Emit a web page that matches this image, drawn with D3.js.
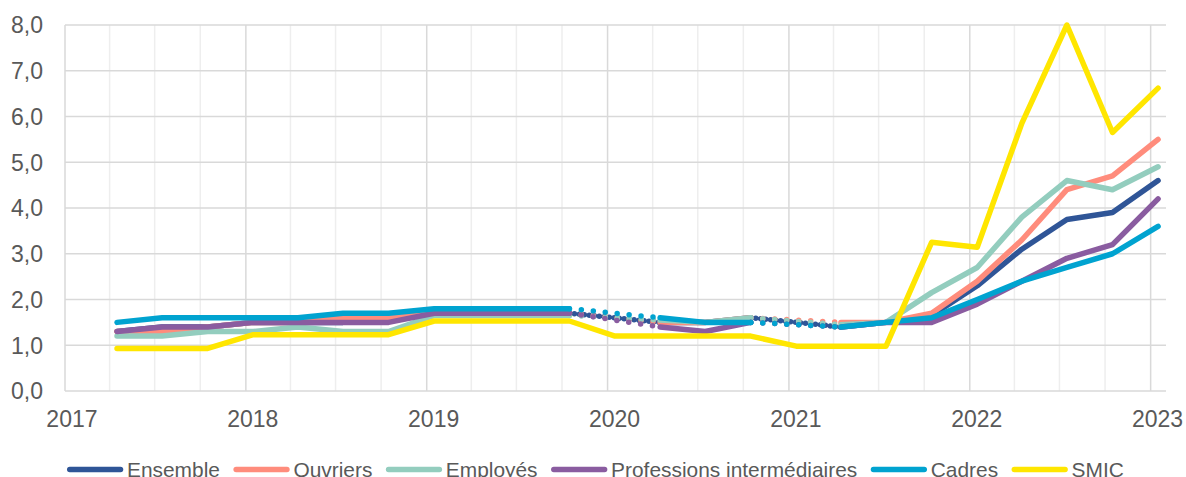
<!DOCTYPE html>
<html><head><meta charset="utf-8">
<script src="https://cdn.jsdelivr.net/npm/d3@7"></script>
<style>
html,body{margin:0;padding:0;background:#fff;}
svg{display:block;font-family:"Liberation Sans",Arial,sans-serif;}
</style></head>
<body>
<svg id="c" width="1186" height="477"></svg>
<script>
// Quarters (year, quarter)
const quarters = ["2017-T2","2017-T3","2017-T4","2018-T1","2018-T2","2018-T3","2018-T4","2019-T1","2019-T2","2019-T3","2019-T4","2020-T1","2020-T2","2020-T3","2020-T4","2021-T1","2021-T2","2021-T3","2021-T4","2022-T1","2022-T2","2022-T3","2022-T4","2023-T1"];
const ensemble   = [1.3,1.4,1.4,1.5,1.5,1.5,1.55,1.7,1.7,1.7,1.7,null,1.5,1.5,1.6,null,1.4,1.5,1.65,2.3,3.1,3.75,3.9,4.6];
const ouvriers   = [1.3,1.3,1.4,1.5,1.5,1.6,1.6,1.7,1.7,1.7,1.7,null,1.5,1.5,1.6,null,1.5,1.5,1.7,2.4,3.3,4.4,4.7,5.5];
const employes   = [1.2,1.2,1.3,1.3,1.4,1.3,1.3,1.65,1.65,1.65,1.65,null,1.55,1.5,1.6,null,1.45,1.5,2.15,2.7,3.8,4.6,4.4,4.9];
const professions= [1.3,1.4,1.4,1.5,1.5,1.5,1.5,1.7,1.7,1.7,1.7,null,1.4,1.3,1.5,null,1.4,1.5,1.5,1.9,2.4,2.9,3.2,4.2];
const cadres     = [1.5,1.6,1.6,1.6,1.6,1.7,1.7,1.8,1.8,1.8,1.8,null,1.6,1.5,1.5,null,1.4,1.5,1.6,2.0,2.4,2.7,3.0,3.6];
const smic       = [0.93,0.93,0.93,1.23,1.23,1.23,1.23,1.53,1.53,1.53,1.53,1.2,1.2,1.2,1.2,0.98,0.98,0.98,3.25,3.14,5.85,8.0,5.65,6.62];
const seriesNames = ["Ensemble","Ouvriers","Employés","Professions intermédiaires","Cadres","SMIC"];
const seriesValues = [ensemble, ouvriers, employes, professions, cadres, smic];
const colors = ["#2F5597","#FF8C7C","#93CDBE","#8A5CA0","#00A3D0","#FFE600"];
const yTicks = [0,1,2,3,4,5,6,7,8];
const yearTicks = [2017,2018,2019,2020,2021,2022,2023];

(function(){
const svg = d3.select("#c");
const mLeft = 65, mRight = 1166, mTop = 25, mBottom = 391;

const qDate = s => { const [yy,q] = s.split("-T").map(Number); return new Date(Date.UTC(yy,(q-1)*3,16)); };
const dates = quarters.map(qDate);

const x = d3.scaleUtc().domain([new Date(Date.UTC(2017,0,1)), new Date(Date.UTC(2023,1,1))]).range([mLeft,mRight]);
const y = d3.scaleLinear().domain([0,8]).range([mBottom,mTop]);

const fmt = d3.formatLocale({decimal:",",thousands:" ",grouping:[3],currency:["","€"]}).format(".1f");

// vertical gridlines (quarters)
const qLines = d3.utcMonth.every(3).range(new Date(Date.UTC(2017,0,1)), new Date(Date.UTC(2023,0,2)));
svg.append("g").selectAll("line").data(qLines).join("line")
  .attr("x1",d=>x(d)).attr("x2",d=>x(d)).attr("y1",mTop).attr("y2",mBottom)
  .attr("stroke",d=>d.getUTCMonth()===0?"#D9D9D9":"#EEEEEE").attr("stroke-width",1.5);

// horizontal gridlines
svg.append("g").selectAll("line").data(yTicks).join("line")
  .attr("x1",mLeft).attr("x2",mRight).attr("y1",d=>y(d)).attr("y2",d=>y(d))
  .attr("stroke","#D9D9D9").attr("stroke-width",1.5);

// y labels
svg.append("g").selectAll("text").data(yTicks).join("text")
  .attr("x",43).attr("y",d=>y(d)).attr("dy","0.36em").attr("text-anchor","end")
  .attr("fill","#595959").attr("font-size",23).text(d=>fmt(d));

// x labels
svg.append("g").selectAll("text").data(yearTicks).join("text")
  .attr("x",d=>x(new Date(Date.UTC(d,0,15)))).attr("y",427).attr("text-anchor","middle")
  .attr("fill","#595959").attr("font-size",23).text(d=>d);

// lines
const lineGen = d3.line().defined(d=>d.v!==null).x(d=>x(d.date)).y(d=>y(d.v));
const g = svg.append("g");
seriesValues.forEach((vals,i)=>{
  const pts = vals.map((v,j)=>({date:dates[j],v}));
  const bridges = [];
  for(let j=1;j<pts.length-1;j++){
    if(pts[j].v===null && pts[j-1].v!==null){
      let k=j; while(k<pts.length && pts[k].v===null) k++;
      if(k<pts.length) bridges.push([pts[j-1],pts[k]]);
    }
  }
  bridges.forEach(b=>{
    g.append("path").attr("d",d3.line().x(d=>x(d.date)).y(d=>y(d.v))(b))
      .attr("fill","none").attr("stroke",colors[i]).attr("stroke-width",5.5)
      .attr("stroke-linecap","round").attr("stroke-dasharray", i===0?"0,5":"0,12");
  });
  g.append("path").attr("d",lineGen(pts))
    .attr("fill","none").attr("stroke",colors[i]).attr("stroke-width",5.5)
    .attr("stroke-linejoin","round").attr("stroke-linecap","round");
});

// legend
const leg = svg.append("g");
let cx = 67;
seriesNames.forEach((n,i)=>{
  leg.append("line").attr("x1",cx+2.75).attr("x2",cx+53.5).attr("y1",469.5).attr("y2",469.5)
    .attr("stroke",colors[i]).attr("stroke-width",5.5).attr("stroke-linecap","round");
  const t = leg.append("text").attr("x",cx+60).attr("y",477).attr("fill","#595959")
    .attr("font-size",20.9).text(n);
  cx = cx + 60 + t.node().getComputedTextLength() + 13.5;
});
})();
</script>
</body></html>
